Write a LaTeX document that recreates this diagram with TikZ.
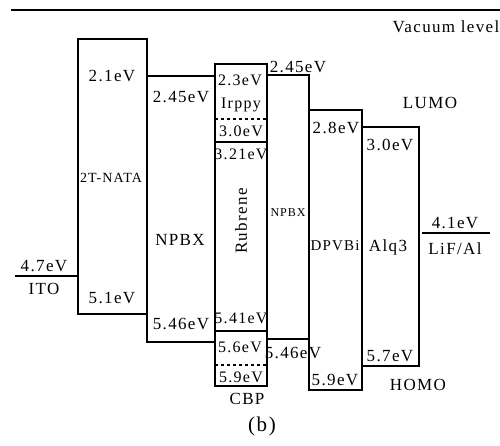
\documentclass[tikz,border=0pt]{standalone}
\usepackage{fontspec}
\setmainfont{Liberation Serif}[LetterSpace=8]
\usepackage{tikz}
\usetikzlibrary{positioning}

\tikzset{
    lvl/.style={line width=2.2pt},
    lvldash/.style={line width=2.2pt, dash pattern=on 3pt off 3pt},
    lbl/.style={inner sep=0pt, font=\fontsize{17}{20}\selectfont},
    lblsm/.style={inner sep=0pt, font=\fontsize{16}{19}\selectfont},
}

\begin{document}
\begin{tikzpicture}[x=1pt, y=-1pt]
    \useasboundingbox (0,0) rectangle (500,445);

    % Vacuum level
    \draw[lvl] (11,10) -- (500,10);
    \node[lbl] (vac) at (446,27) {Vacuum level};

    % Energy level boxes
    \draw[lvl] (15,276) -- (78,276); % ITO
    \draw[lvl] (78,39) rectangle (147,314); % 2T-NATA
    \draw[lvl] (147,76) rectangle (215,342); % NPBX
    \draw[lvl] (215,64) rectangle (267,386); % Irppy / Rubrene / CBP
    \draw[lvldash] (215,119) -- (267,119);
    \draw[lvl] (215,142) -- (267,142);
    \draw[lvl] (215,331) -- (267,331);
    \draw[lvldash] (215,365) -- (267,365);
    \draw[lvl] (267,75) rectangle (309,339); % NPBX
    \draw[lvl] (309,110) rectangle (362,390); % DPVBi
    \draw[lvl] (362,127) rectangle (419,366); % Alq3
    \draw[lvl] (422,233) -- (490,233); % LiF/Al

    % ITO
    \node[lbl] (itoE) at (44,266) {4.7eV};
    \node[lbl] (ito) at (44,289) {ITO};

    % 2T-NATA
    \node[lbl] (nataL) at (112,76) {2.1eV};
    \node[inner sep=0pt, font=\fontsize{14}{16}\selectfont] (nata) at (111,178) {2T-NATA};
    \node[lbl] (nataH) at (112,298) {5.1eV};

    % NPBX
    \node[lbl] (npbL) at (181,97) {2.45eV};
    \node[lbl] (npb) at (180,240) {NPBX};
    \node[lbl] (npbH) at (181,324) {5.46eV};

    % Irppy, Rubrene, CBP
    \node[lblsm] (irL) at (240,80) {2.3eV};
    \node[lblsm] (ir) at (241,105) {Irppy};
    \node[lblsm] (cbL) at (241,131) {3.0eV};
    \node[lblsm] (rubL) at (241,154) {3.21eV};
    \node[lbl, rotate=90] (rub) at (241,221) {Rubrene};
    \node[lblsm] (rubH) at (241,318) {5.41eV};
    \node[lblsm] (irH) at (240,347) {5.6eV};
    \node[lblsm] (cbH) at (241,377) {5.9eV};
    \node[lbl] (cbp) at (247,399) {CBP};

    % NPBX (second)
    \node[lbl] (npbbL) at (298,67) {2.45eV};
    \node[inner sep=0pt, font=\fontsize{12}{14}\selectfont] (npbb) at (288,213) {NPBX};
    \node[lbl] (npbbH) at (293,353) {5.46eV};

    % DPVBi
    \node[lbl] (dpvL) at (336,128) {2.8eV};
    \node[inner sep=0pt, font=\fontsize{15}{18}\selectfont] (dpv) at (335,246) {DPVBi};
    \node[lbl] (dpvH) at (335,380) {5.9eV};

    % Alq3
    \node[lbl] (alqL) at (390,145) {3.0eV};
    \node[lbl] (alq) at (388,247) {Alq3};
    \node[lbl] (alqH) at (390,356) {5.7eV};

    % LiF/Al
    \node[lbl] (lifE) at (455,223) {4.1eV};
    \node[lbl] (lif) at (455,249) {LiF/Al};

    % LUMO / HOMO
    \node[lbl] (lumo) at (430,103) {LUMO};
    \node[lbl] (homo) at (418,385) {HOMO};

    \node[inner sep=0pt, font=\fontsize{21}{24}\selectfont] (cap) at (262,426) {(b)};
\end{tikzpicture}
\end{document}
